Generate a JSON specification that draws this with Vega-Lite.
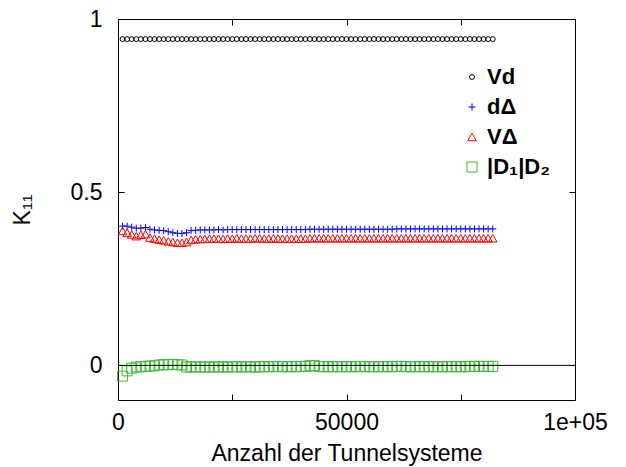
{
"$schema":"https://vega.github.io/schema/vega-lite/v6.json",
"width":457,"height":381,
"autosize":{"type":"none"},
"padding":{"left":118,"top":19,"right":51,"bottom":67},
"background":"white",
"config":{"view":{"stroke":null},"font":"Liberation Sans",
"axis":{"grid":false,"domainColor":"black","tickColor":"black","labelColor":"black","titleColor":"black","labelFont":"Liberation Sans","titleFont":"Liberation Sans","labelFontSize":23,"titleFontSize":23,"titleFontWeight":"normal","tickSize":-6,"domainWidth":1,"tickWidth":1,"labelFlush":false}},
"layer":[
{"data":{"values":[
{"x":1000,"Vd":0.942,"dΔ":0.402,"VΔ":0.388,"|D₁|D₂":-0.031},
{"x":2000,"Vd":0.942,"dΔ":0.402,"VΔ":0.383,"|D₁|D₂":-0.016},
{"x":3000,"Vd":0.942,"dΔ":0.399,"VΔ":0.378,"|D₁|D₂":-0.008},
{"x":4000,"Vd":0.942,"dΔ":0.396,"VΔ":0.373,"|D₁|D₂":-0.005},
{"x":5000,"Vd":0.942,"dΔ":0.396,"VΔ":0.377,"|D₁|D₂":-0.004},
{"x":6000,"Vd":0.942,"dΔ":0.398,"VΔ":0.379,"|D₁|D₂":-0.003},
{"x":7000,"Vd":0.942,"dΔ":0.393,"VΔ":0.369,"|D₁|D₂":-0.002},
{"x":8000,"Vd":0.942,"dΔ":0.391,"VΔ":0.366,"|D₁|D₂":-0.001},
{"x":9000,"Vd":0.942,"dΔ":0.390,"VΔ":0.363,"|D₁|D₂":0.001},
{"x":10000,"Vd":0.942,"dΔ":0.389,"VΔ":0.361,"|D₁|D₂":0.002},
{"x":11000,"Vd":0.942,"dΔ":0.386,"VΔ":0.358,"|D₁|D₂":0.002},
{"x":12000,"Vd":0.942,"dΔ":0.383,"VΔ":0.356,"|D₁|D₂":0.003},
{"x":13000,"Vd":0.942,"dΔ":0.381,"VΔ":0.354,"|D₁|D₂":0.002},
{"x":14000,"Vd":0.942,"dΔ":0.381,"VΔ":0.354,"|D₁|D₂":0.001},
{"x":15000,"Vd":0.942,"dΔ":0.383,"VΔ":0.356,"|D₁|D₂":-0.005},
{"x":16000,"Vd":0.942,"dΔ":0.389,"VΔ":0.362,"|D₁|D₂":-0.004},
{"x":17000,"Vd":0.942,"dΔ":0.390,"VΔ":0.364,"|D₁|D₂":-0.005},
{"x":18000,"Vd":0.942,"dΔ":0.391,"VΔ":0.365,"|D₁|D₂":-0.004},
{"x":19000,"Vd":0.942,"dΔ":0.391,"VΔ":0.365,"|D₁|D₂":-0.005},
{"x":20000,"Vd":0.942,"dΔ":0.391,"VΔ":0.366,"|D₁|D₂":-0.005},
{"x":21000,"Vd":0.942,"dΔ":0.391,"VΔ":0.366,"|D₁|D₂":-0.004},
{"x":22000,"Vd":0.942,"dΔ":0.392,"VΔ":0.366,"|D₁|D₂":-0.005},
{"x":23000,"Vd":0.942,"dΔ":0.391,"VΔ":0.365,"|D₁|D₂":-0.004},
{"x":24000,"Vd":0.942,"dΔ":0.392,"VΔ":0.366,"|D₁|D₂":-0.005},
{"x":25000,"Vd":0.942,"dΔ":0.392,"VΔ":0.366,"|D₁|D₂":-0.004},
{"x":26000,"Vd":0.942,"dΔ":0.392,"VΔ":0.367,"|D₁|D₂":-0.004},
{"x":27000,"Vd":0.942,"dΔ":0.392,"VΔ":0.366,"|D₁|D₂":-0.005},
{"x":28000,"Vd":0.942,"dΔ":0.392,"VΔ":0.366,"|D₁|D₂":-0.004},
{"x":29000,"Vd":0.942,"dΔ":0.392,"VΔ":0.366,"|D₁|D₂":-0.004},
{"x":30000,"Vd":0.942,"dΔ":0.392,"VΔ":0.367,"|D₁|D₂":-0.005},
{"x":31000,"Vd":0.942,"dΔ":0.392,"VΔ":0.367,"|D₁|D₂":-0.004},
{"x":32000,"Vd":0.942,"dΔ":0.392,"VΔ":0.366,"|D₁|D₂":-0.004},
{"x":33000,"Vd":0.942,"dΔ":0.392,"VΔ":0.366,"|D₁|D₂":-0.004},
{"x":34000,"Vd":0.942,"dΔ":0.392,"VΔ":0.367,"|D₁|D₂":-0.004},
{"x":35000,"Vd":0.942,"dΔ":0.392,"VΔ":0.366,"|D₁|D₂":-0.003},
{"x":36000,"Vd":0.942,"dΔ":0.392,"VΔ":0.366,"|D₁|D₂":-0.004},
{"x":37000,"Vd":0.942,"dΔ":0.392,"VΔ":0.366,"|D₁|D₂":-0.004},
{"x":38000,"Vd":0.942,"dΔ":0.392,"VΔ":0.366,"|D₁|D₂":-0.004},
{"x":39000,"Vd":0.942,"dΔ":0.392,"VΔ":0.366,"|D₁|D₂":-0.004},
{"x":40000,"Vd":0.942,"dΔ":0.392,"VΔ":0.366,"|D₁|D₂":-0.003},
{"x":41000,"Vd":0.942,"dΔ":0.392,"VΔ":0.366,"|D₁|D₂":-0.003},
{"x":42000,"Vd":0.942,"dΔ":0.393,"VΔ":0.367,"|D₁|D₂":-0.001},
{"x":43000,"Vd":0.942,"dΔ":0.393,"VΔ":0.367,"|D₁|D₂":-0.001},
{"x":44000,"Vd":0.942,"dΔ":0.393,"VΔ":0.367,"|D₁|D₂":-0.003},
{"x":45000,"Vd":0.942,"dΔ":0.393,"VΔ":0.367,"|D₁|D₂":-0.004},
{"x":46000,"Vd":0.942,"dΔ":0.393,"VΔ":0.367,"|D₁|D₂":-0.004},
{"x":47000,"Vd":0.942,"dΔ":0.393,"VΔ":0.367,"|D₁|D₂":-0.004},
{"x":48000,"Vd":0.942,"dΔ":0.393,"VΔ":0.367,"|D₁|D₂":-0.004},
{"x":49000,"Vd":0.942,"dΔ":0.393,"VΔ":0.367,"|D₁|D₂":-0.004},
{"x":50000,"Vd":0.942,"dΔ":0.393,"VΔ":0.367,"|D₁|D₂":-0.004},
{"x":51000,"Vd":0.942,"dΔ":0.393,"VΔ":0.367,"|D₁|D₂":-0.004},
{"x":52000,"Vd":0.942,"dΔ":0.393,"VΔ":0.367,"|D₁|D₂":-0.004},
{"x":53000,"Vd":0.942,"dΔ":0.393,"VΔ":0.367,"|D₁|D₂":-0.003},
{"x":54000,"Vd":0.942,"dΔ":0.393,"VΔ":0.367,"|D₁|D₂":-0.004},
{"x":55000,"Vd":0.942,"dΔ":0.393,"VΔ":0.367,"|D₁|D₂":-0.004},
{"x":56000,"Vd":0.942,"dΔ":0.393,"VΔ":0.367,"|D₁|D₂":-0.004},
{"x":57000,"Vd":0.942,"dΔ":0.393,"VΔ":0.367,"|D₁|D₂":-0.004},
{"x":58000,"Vd":0.942,"dΔ":0.393,"VΔ":0.367,"|D₁|D₂":-0.004},
{"x":59000,"Vd":0.942,"dΔ":0.393,"VΔ":0.367,"|D₁|D₂":-0.004},
{"x":60000,"Vd":0.942,"dΔ":0.393,"VΔ":0.367,"|D₁|D₂":-0.004},
{"x":61000,"Vd":0.942,"dΔ":0.394,"VΔ":0.367,"|D₁|D₂":-0.003},
{"x":62000,"Vd":0.942,"dΔ":0.394,"VΔ":0.367,"|D₁|D₂":-0.003},
{"x":63000,"Vd":0.942,"dΔ":0.394,"VΔ":0.367,"|D₁|D₂":-0.004},
{"x":64000,"Vd":0.942,"dΔ":0.394,"VΔ":0.367,"|D₁|D₂":-0.004},
{"x":65000,"Vd":0.942,"dΔ":0.394,"VΔ":0.367,"|D₁|D₂":-0.004},
{"x":66000,"Vd":0.942,"dΔ":0.394,"VΔ":0.367,"|D₁|D₂":-0.004},
{"x":67000,"Vd":0.942,"dΔ":0.394,"VΔ":0.367,"|D₁|D₂":-0.004},
{"x":68000,"Vd":0.942,"dΔ":0.394,"VΔ":0.367,"|D₁|D₂":-0.004},
{"x":69000,"Vd":0.942,"dΔ":0.394,"VΔ":0.367,"|D₁|D₂":-0.004},
{"x":70000,"Vd":0.942,"dΔ":0.394,"VΔ":0.367,"|D₁|D₂":-0.004},
{"x":71000,"Vd":0.942,"dΔ":0.394,"VΔ":0.367,"|D₁|D₂":-0.004},
{"x":72000,"Vd":0.942,"dΔ":0.394,"VΔ":0.367,"|D₁|D₂":-0.004},
{"x":73000,"Vd":0.942,"dΔ":0.394,"VΔ":0.367,"|D₁|D₂":-0.004},
{"x":74000,"Vd":0.942,"dΔ":0.394,"VΔ":0.367,"|D₁|D₂":-0.004},
{"x":75000,"Vd":0.942,"dΔ":0.394,"VΔ":0.367,"|D₁|D₂":-0.004},
{"x":76000,"Vd":0.942,"dΔ":0.394,"VΔ":0.367,"|D₁|D₂":-0.004},
{"x":77000,"Vd":0.942,"dΔ":0.394,"VΔ":0.367,"|D₁|D₂":-0.003},
{"x":78000,"Vd":0.942,"dΔ":0.394,"VΔ":0.367,"|D₁|D₂":-0.003},
{"x":79000,"Vd":0.942,"dΔ":0.394,"VΔ":0.367,"|D₁|D₂":-0.003},
{"x":80000,"Vd":0.942,"dΔ":0.394,"VΔ":0.367,"|D₁|D₂":-0.003},
{"x":81000,"Vd":0.942,"dΔ":0.394,"VΔ":0.367,"|D₁|D₂":-0.003},
{"x":82000,"Vd":0.942,"dΔ":0.394,"VΔ":0.367,"|D₁|D₂":-0.003}
]},
"transform":[{"fold":["Vd","dΔ","VΔ","|D₁|D₂"],"as":["s","y"]}],
"mark":{"type":"point","filled":false,"strokeWidth":1,"opacity":1},
"encoding":{
"x":{"field":"x","type":"quantitative","scale":{"domain":[0,100000]},"axis":{"orient":"bottom","values":[0,25000,50000,75000,100000],"labelExpr":"datum.value==100000?'1e+05':(datum.value%50000==0?format(datum.value,'d'):'')","labelPadding":17,"title":"Anzahl der Tunnelsysteme","titlePadding":8}},
"y":{"field":"y","type":"quantitative","scale":{"domain":[-0.1,1]},"axis":{"orient":"left","values":[0,0.5,1],"format":"~g","labelPadding":22,"title":"K₁₁","titlePadding":36}},
"shape":{"field":"s","type":"nominal","scale":{"domain":["Vd","dΔ","VΔ","|D₁|D₂"],"range":["circle","M-1,0L1,0M0,-1L0,1","triangle-up","M-1,-1L1,-1L1,1L-1,1Z"]}},
"size":{"field":"s","type":"nominal","scale":{"domain":["Vd","dΔ","VΔ","|D₁|D₂"],"range":[24,100,75,32]},"legend":null},
"color":{"field":"s","type":"nominal","scale":{"domain":["Vd","dΔ","VΔ","|D₁|D₂"],"range":["black","#0000ff","#ff0000","#3dbb33"]},
"legend":{"title":null,"orient":"none","legendX":343,"legendY":47,"labelFontSize":22,"labelFontWeight":"bold","labelFont":"Liberation Sans","labelColor":"black","rowPadding":8,"symbolSize":40,"symbolStrokeWidth":1,"labelOffset":4,"padding":0,
"encode":{"symbols":{"update":{"size":{"signal":"datum.value=='Vd'?32:(datum.value=='|D₁|D₂'?36:60)"}}}}}}
}},
{"data":{"values":[{}]},
"mark":{"type":"rule","color":"black","strokeWidth":1},
"encoding":{
"x":{"datum":0,"type":"quantitative","scale":{"domain":[0,100000]},"axis":{"orient":"top","values":[0,25000,50000,75000,100000],"labels":false,"title":null}},
"x2":{"datum":100000},
"y":{"datum":0,"type":"quantitative","scale":{"domain":[-0.1,1]},"axis":{"orient":"right","values":[0,0.5,1],"labels":false,"title":null}}
}}
],
"resolve":{"axis":{"x":"independent","y":"independent"}}
}
